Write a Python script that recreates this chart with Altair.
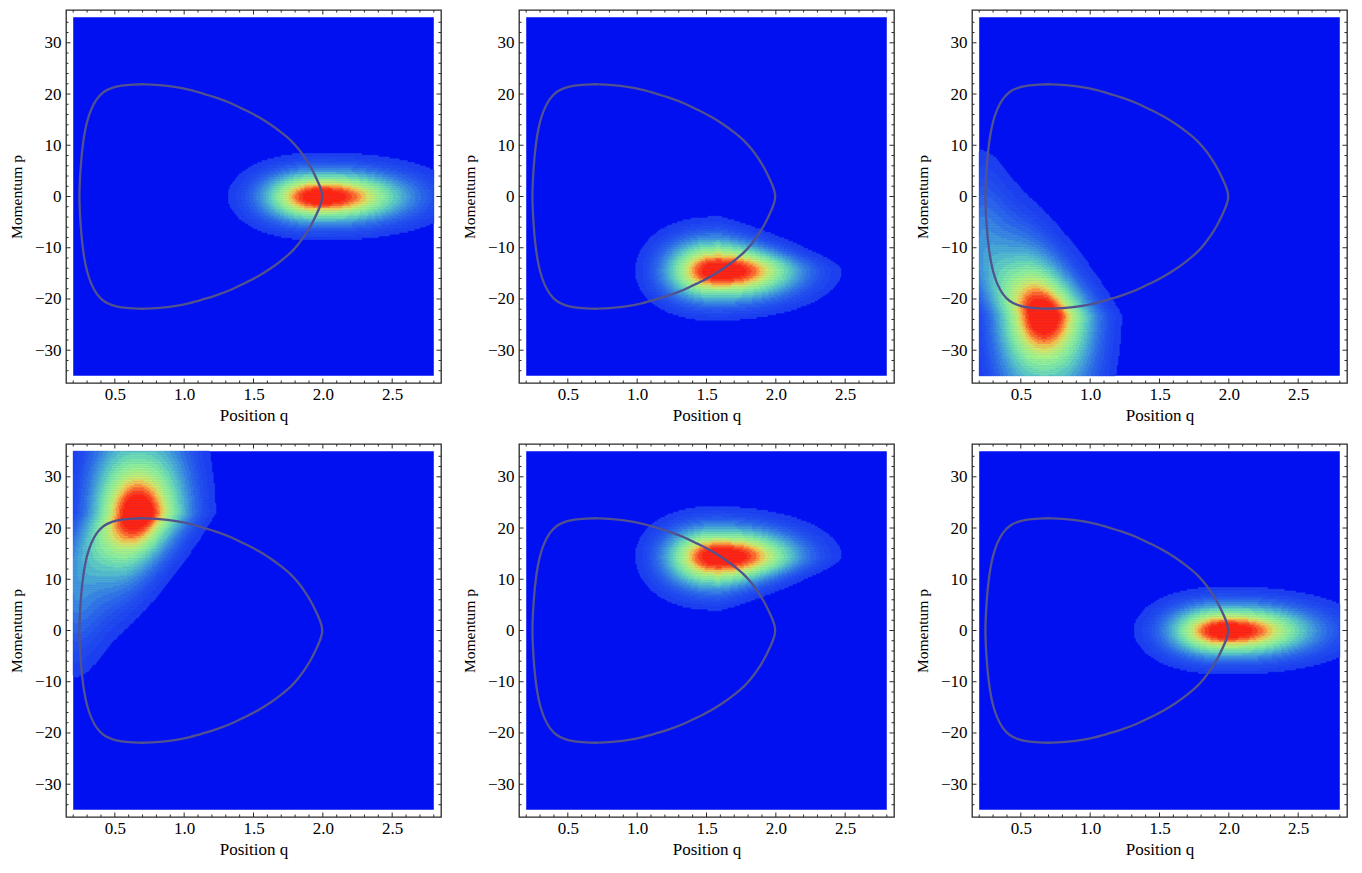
import numpy as np
import pandas as pd
import altair as alt

# ---------------- data ----------------
Q_RANGE = [0.2, 2.8]          # plotted density range (position q)
P_RANGE = [-35.0, 35.0]       # plotted density range (momentum p)
X_DOMAIN = [0.148, 2.852]     # frame (with Mathematica's 2% padding)
Y_DOMAIN = [-36.4, 36.4]

X_MAJOR = [0.5, 1.0, 1.5, 2.0, 2.5]
X_MINOR = [0.2, 0.3, 0.4, 0.6, 0.7, 0.8, 0.9, 1.1, 1.2, 1.3, 1.4, 1.6, 1.7, 1.8,
           1.9, 2.1, 2.2, 2.3, 2.4, 2.6, 2.7, 2.8]
Y_MAJOR = [-30, -20, -10, 0, 10, 20, 30]
Y_MINOR = [-34, -32, -28, -26, -24, -22, -18, -16, -14, -12, -8, -6, -4, -2,
           2, 4, 6, 8, 12, 14, 16, 18, 22, 24, 26, 28, 32, 34]

# orbit (upper half, from the left turning point to the right one)
ORBIT_Q = [0.245, 0.248, 0.255, 0.265, 0.28, 0.30, 0.33, 0.37, 0.42, 0.48, 0.55,
           0.63, 0.72, 0.82, 0.93, 1.04, 1.145, 1.24, 1.337, 1.43, 1.53, 1.62,
           1.70, 1.77, 1.82, 1.87, 1.915, 1.952, 1.978, 1.992, 1.995]
ORBIT_P = [0.0, 3.0, 6.0, 9.0, 12.0, 14.6, 17.0, 19.0, 20.4, 21.2, 21.65,
           21.85, 21.9, 21.75, 21.4, 20.8, 20.0, 19.2, 18.2, 17.0, 15.6, 14.1,
           12.5, 10.9, 9.4, 7.6, 5.6, 3.6, 2.0, 0.8, 0.0]

# density blobs per panel:
# (amp, q0, p0, left, right, down, up, q-exp, p-exp, taper_down, taper_up, shear_up, shear_down)
PANEL_BLOBS = [
    [(1.0, 1.98, 0.0, 0.66, 1.00, 8.5, 8.5, 2.2, 2.0, 0.0, 0.0, 0.0, 0.0)],
    [(1.0, 1.60, -14.5, 0.61, 0.87, 9.7, 10.5, 2.4, 2.0, 0.12, 0.63, 0.0, 0.0)],
    [(0.35, 0.67, -23.2, 0.33, 0.33, 16.0, 16.0, 2.0, 1.8, 0.0, 0.0, 0.01, 0.0),
     (0.70, 0.67, -23.2, 0.55, 0.58, 34.0, 30.0, 2.8, 1.6, 0.0, 0.0, 0.02, 0.0),
     (0.10, 0.22, -4.0, 0.10, 0.30, 14.0, 20.0, 2.0, 1.8, 0.0, 0.0, 0.0, 0.0)],
    [(0.35, 0.67, 23.0, 0.33, 0.33, 16.0, 16.0, 2.0, 1.8, 0.0, 0.0, 0.0, 0.01),
     (0.70, 0.67, 23.0, 0.55, 0.58, 30.0, 34.0, 2.8, 1.6, 0.0, 0.0, 0.0, 0.02),
     (0.10, 0.22, 4.0, 0.10, 0.30, 20.0, 14.0, 2.0, 1.8, 0.0, 0.0, 0.0, 0.0)],
    [(1.0, 1.60, 14.5, 0.61, 0.87, 10.5, 9.7, 2.4, 2.0, 0.63, 0.12, 0.0, 0.0)],
    [(1.0, 1.98, 0.0, 0.66, 1.00, 8.5, 8.5, 2.2, 2.0, 0.0, 0.0, 0.0, 0.0)],
]

LEVELS = [0.04, 0.07, 0.10, 0.13, 0.16, 0.20, 0.24, 0.28, 0.32, 0.36, 0.40, 0.45,
          0.50, 0.55, 0.60, 0.65, 0.70, 0.75, 0.80, 0.84, 0.88, 0.92]

# ---------------- styles ----------------
BG_BLUE = "#0010f0"
CMAP_STOPS = [(0.00, "#1a38f2"), (0.10, "#2450ee"), (0.16, "#2c66ea"),
              (0.23, "#3882e2"), (0.30, "#46a2d8"), (0.38, "#58c4c8"),
              (0.46, "#72e0b0"), (0.55, "#90f09a"), (0.64, "#b2f280"),
              (0.72, "#e0e462"), (0.78, "#ffb044"), (0.84, "#ff6a2c"),
              (0.90, "#ff2c14"), (1.00, "#ff1010")]
ORBIT_COLOR = "#52528f"
FRAME = "#2a2a2a"
FONT = "Liberation Serif"
W, H = 375, 373
MAJ, MIN = 4.5, 2.5


def hex2rgb(h):
    return np.array([int(h[i:i + 2], 16) for i in (1, 3, 5)], dtype=float)


def cmap(v):
    for (v0, c0), (v1, c1) in zip(CMAP_STOPS[:-1], CMAP_STOPS[1:]):
        if v <= v1:
            t = (v - v0) / (v1 - v0)
            c = hex2rgb(c0) * (1 - t) + hex2rgb(c1) * t
            return "#%02x%02x%02x" % tuple(int(round(x)) for x in c)
    return CMAP_STOPS[-1][1]


LEVEL_COLORS = [cmap(v) for v in LEVELS]


def density(Q, P, blobs):
    tot = np.zeros_like(Q)
    for (amp, q0, p0, L, R, D, U, a, b, tD, tU, sU, sD) in blobs:
        dq = Q - q0
        dp = P - p0
        u = dq + sU * np.maximum(dp, 0) + sD * np.maximum(-dp, 0)
        x = np.where(u >= 0, u / R, -u / L)
        xr = np.where(u >= 0, u / R, 0.0)
        De = D * np.clip(1 - tD * xr, 0.05, None)
        Ue = U * np.clip(1 - tU * xr, 0.05, None)
        y = np.where(dp >= 0, dp / Ue, -dp / De)
        tot += amp * np.exp(-3.2 * (x ** a + y ** b))
    return tot


def cells_for(blobs, nq=260, npp=200):
    qe = np.linspace(Q_RANGE[0], Q_RANGE[1], nq + 1)
    pe = np.linspace(P_RANGE[0], P_RANGE[1], npp + 1)
    qc = (qe[:-1] + qe[1:]) / 2
    pc = (pe[:-1] + pe[1:]) / 2
    Qg, Pg = np.meshgrid(qc, pc)
    lev = np.digitize(density(Qg, Pg, blobs), LEVELS)
    out = []
    for i in range(npp):
        row = lev[i]
        j = 0
        while j < nq:
            k = j
            while k + 1 < nq and row[k + 1] == row[j]:
                k += 1
            if row[j] > 0:
                out.append((qe[j], qe[k + 1], pe[i], pe[i + 1], int(row[j])))
            j = k + 1
    return pd.DataFrame(out, columns=["q1", "q2", "p1", "p2", "lev"])


# closed orbit: upper half right->left, lower half left->right, plus overlap
oq = list(reversed(ORBIT_Q)) + ORBIT_Q[1:]
op = list(reversed(ORBIT_P)) + [-v for v in ORBIT_P[1:]]
oq += oq[1:3]
op += op[1:3]
orbit_df = pd.DataFrame({"q": oq, "p": op, "i": range(len(oq))})

bg_df = pd.DataFrame({"q1": [Q_RANGE[0]], "q2": [Q_RANGE[1]],
                      "p1": [P_RANGE[0]], "p2": [P_RANGE[1]]})
xmaj = pd.DataFrame({"v": X_MAJOR})
xmin = pd.DataFrame({"v": X_MINOR})
ymaj = pd.DataFrame({"v": Y_MAJOR})
ymin = pd.DataFrame({"v": Y_MINOR})

xs = alt.Scale(domain=X_DOMAIN, nice=False, zero=False)
ys = alt.Scale(domain=Y_DOMAIN, nice=False, zero=False)

X_AX = dict(values=X_MAJOR, format=".1f", labelPadding=3, titlePadding=5,
            titleFontSize=17, ticks=False, domain=False, grid=False)
Y_AX = dict(values=Y_MAJOR, format="d", labelPadding=5, titlePadding=10,
            titleFontSize=15.5, ticks=False, domain=False, grid=False)


def X(field):
    return alt.X(field, scale=xs, axis=alt.Axis(**X_AX), title="Position q")


def Y(field):
    return alt.Y(field, scale=ys, axis=alt.Axis(**Y_AX), title="Momentum p")


def tick_layers():
    layers = []
    for df, ln in ((xmaj, MAJ), (xmin, MIN)):
        for y0, y1 in ((0, ln), (H, H - ln)):
            layers.append(alt.Chart(df).mark_rule(color=FRAME, strokeWidth=1).encode(
                x=X("v:Q"), y=alt.value(y0), y2=alt.value(y1)))
    for df, ln in ((ymaj, MAJ), (ymin, MIN)):
        for x0, x1 in ((0, ln), (W, W - ln)):
            layers.append(alt.Chart(df).mark_rule(color=FRAME, strokeWidth=1).encode(
                y=Y("v:Q"), x=alt.value(x0), x2=alt.value(x1)))
    return layers


def panel(idx):
    cells = cells_for(PANEL_BLOBS[idx])
    bg = alt.Chart(bg_df).mark_rect(color=BG_BLUE).encode(
        x=X("q1:Q"), x2="q2", y=Y("p1:Q"), y2="p2")
    col = alt.Scale(domain=list(range(1, len(LEVELS) + 1)), range=LEVEL_COLORS)
    dens = alt.Chart(cells).mark_rect(strokeWidth=0.6).encode(
        x=X("q1:Q"), x2="q2", y=Y("p1:Q"), y2="p2",
        color=alt.Color("lev:O", scale=col, legend=None),
        stroke=alt.Stroke("lev:O", scale=col, legend=None))
    orbit = alt.Chart(orbit_df).mark_line(
        interpolate="catmull-rom", color=ORBIT_COLOR, strokeWidth=2.3).encode(
        x=X("q:Q"), y=Y("p:Q"), order="i:Q")
    return alt.layer(bg, dens, orbit, *tick_layers()).properties(width=W, height=H)


row1 = alt.hconcat(panel(0), panel(1), panel(2), spacing=18)
row2 = alt.hconcat(panel(3), panel(4), panel(5), spacing=18)
chart = alt.vconcat(row1, row2, spacing=18).properties(
    padding={"left": 0, "top": 0, "right": 2, "bottom": 2}
).configure_view(stroke=FRAME, strokeWidth=1.3).configure_axis(
    labelFont=FONT, titleFont=FONT, labelFontSize=17, titleFontWeight="normal",
    labelColor="black", titleColor="black")

chart.save("out.html", embed_options={"renderer": "svg", "actions": False})
